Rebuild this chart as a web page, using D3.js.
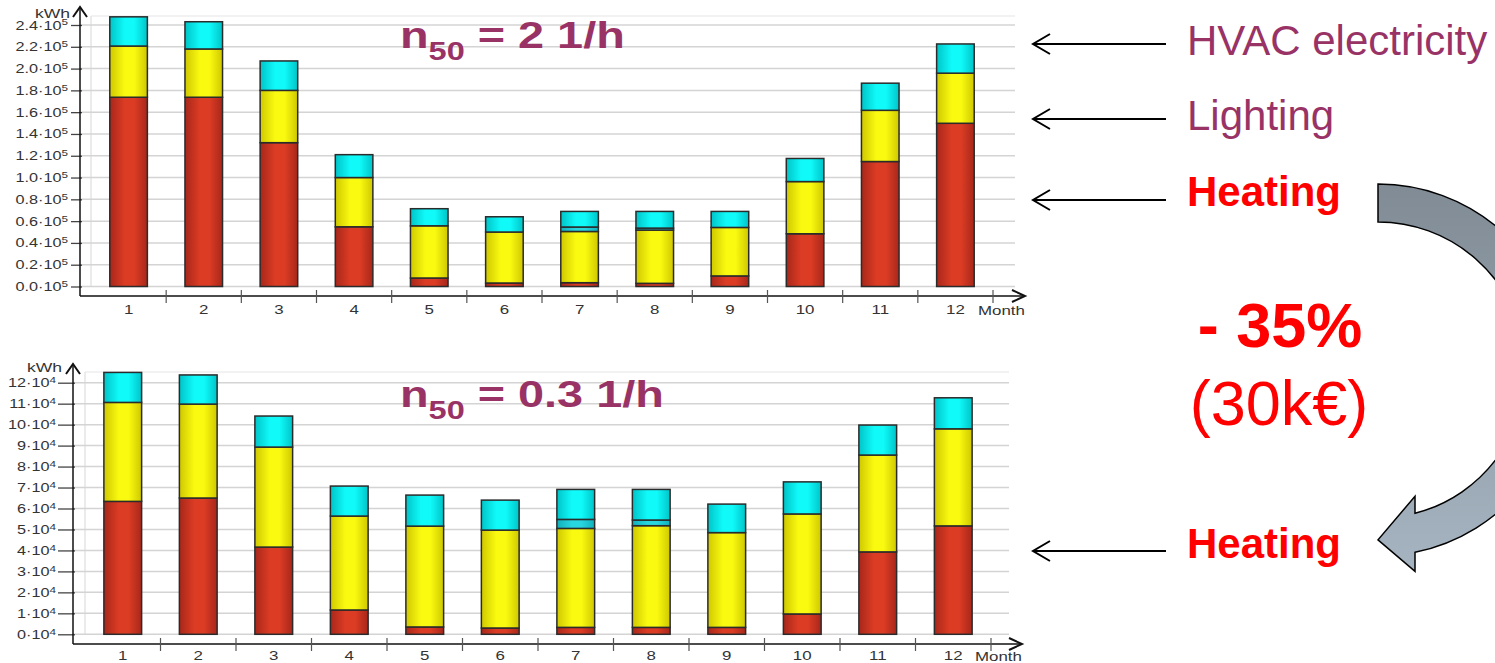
<!DOCTYPE html>
<html>
<head>
<meta charset="utf-8">
<script src="https://cdn.jsdelivr.net/npm/d3@7"></script>
<style>
  html, body { margin: 0; padding: 0; background: #fff; }
  svg { display: block; }
  .tick text { font-family: "Liberation Sans", Arial, sans-serif; fill: #333; }
</style>
</head>
<body>
<svg id="chart" width="1495" height="663"></svg>
<script>
// Monthly energy demand (kWh) by end use, two airtightness cases
const months = [1, 2, 3, 4, 5, 6, 7, 8, 9, 10, 11, 12];
const seriesKeys = ["heating", "lighting", "cooling", "hvac"];

// n50 = 2 1/h
const leakyHeating  = [173700, 173700, 132000, 54800, 7800, 3200, 3500, 2900, 9700, 48400, 114700, 149800];
const leakyLighting = [47000, 44300, 48000, 45200, 47900, 46800, 47000, 48900, 44500, 47900, 47000, 46000];
const leakyCooling  = [0, 0, 0, 0, 0, 0, 4100, 1800, 0, 0, 0, 0];
const leakyHvac     = [26800, 25000, 27000, 21000, 15700, 14000, 14300, 15300, 14700, 21200, 24900, 26800];
const leakyTicks    = [0, 20000, 40000, 60000, 80000, 100000, 120000, 140000, 160000, 180000, 200000, 220000, 240000];

// n50 = 0.3 1/h
const tightHeating  = [63400, 65000, 41600, 11600, 3500, 3000, 3300, 3300, 3300, 9700, 39300, 51700];
const tightLighting = [47200, 44800, 47700, 44800, 48100, 46700, 47200, 48500, 45200, 47700, 46200, 46300];
const tightCooling  = [0, 0, 0, 0, 0, 0, 4300, 2700, 0, 0, 0, 0];
const tightHvac     = [14300, 13900, 14800, 14300, 14800, 14300, 14300, 14600, 13600, 15300, 14300, 14800];
const tightTicks    = [0, 10000, 20000, 30000, 40000, 50000, 60000, 70000, 80000, 90000, 100000, 110000, 120000];

const svg = d3.select("#chart");
const defs = svg.append("defs");
const FONT = "Liberation Sans, Arial, sans-serif";
const STRETCH = 1.3; // chart lettering is set wide

// Shaded bar fills (darker at the edges)
const fills = {
  heating:  ["#a8271a", "#dc3c24", "#a8271a"],
  lighting: ["#cfc800", "#fafa10", "#cfc800"],
  cooling:  ["#10b0bc", "#28d6e0", "#10b0bc"],
  hvac:     ["#00c4c8", "#10fafa", "#00c4c8"]
};
Object.entries(fills).forEach(([key, stops]) => {
  const g = defs.append("linearGradient").attr("id", "fill-" + key)
    .attr("x1", "0%").attr("x2", "100%").attr("y1", "0%").attr("y2", "0%");
  g.append("stop").attr("offset", "0%").attr("stop-color", stops[0]);
  g.append("stop").attr("offset", "40%").attr("stop-color", stops[1]);
  g.append("stop").attr("offset", "65%").attr("stop-color", stops[1]);
  g.append("stop").attr("offset", "100%").attr("stop-color", stops[2]);
});

const arrowGrad = defs.append("linearGradient").attr("id", "arc-fill")
  .attr("x1", "0").attr("x2", "0").attr("y1", "0").attr("y2", "1");
arrowGrad.append("stop").attr("offset", "0%").attr("stop-color", "#808b95");
arrowGrad.append("stop").attr("offset", "100%").attr("stop-color", "#a6b4c1");

function buildRows(heating, lighting, cooling, hvac) {
  return months.map((m, i) => ({
    month: m, heating: heating[i], lighting: lighting[i], cooling: cooling[i], hvac: hvac[i]
  }));
}

function drawChart(cfg) {
  const g = svg.append("g");
  const x = d3.scaleBand().domain(months).range([cfg.x0, cfg.x1]).paddingInner(0.5).paddingOuter(0.25);
  const y = d3.scaleLinear().domain([0, cfg.ticks[cfg.ticks.length - 1]]).range([cfg.yZero, cfg.yTop]);
  const bandStep = x.step();

  // light plot frame and gridlines
  g.append("line").attr("x1", cfg.x0).attr("x2", cfg.x0)
    .attr("y1", cfg.frameTop).attr("y2", cfg.yZero)
    .attr("stroke", "#dedede").attr("stroke-width", 1.2);
  g.append("line").attr("x1", cfg.x0).attr("x2", cfg.gridRight)
    .attr("y1", cfg.frameTop).attr("y2", cfg.frameTop)
    .attr("stroke", "#e6e6e6").attr("stroke-width", 1.2);
  g.selectAll("line.grid").data(cfg.ticks).join("line").attr("class", "grid")
    .attr("x1", cfg.axisX).attr("x2", cfg.gridRight)
    .attr("y1", d => y(d)).attr("y2", d => y(d))
    .attr("stroke", "#d4d4d4").attr("stroke-width", 1.5);

  // y axis labels and ticks
  const yAxis = d3.axisLeft(y).tickValues(cfg.ticks).tickSize(cfg.tickLen).tickPadding(cfg.tickPad)
    .tickFormat(() => "");
  const ya = g.append("g").attr("transform", `translate(${cfg.axisX + 2},0)`).call(yAxis);
  ya.select(".domain").remove();
  ya.selectAll(".tick line").attr("stroke", "#444").attr("stroke-width", 1.3);
  ya.selectAll(".tick text").each(function (d) {
    const t = d3.select(this).attr("font-size", cfg.labelSize)
      .attr("x", 0)
      .attr("transform", `translate(${-(cfg.tickLen + cfg.tickPad)},0) scale(${STRETCH},1)`);
    t.append("tspan").text(cfg.mantissa(d) + "·10");
    t.append("tspan").attr("dy", "-0.45em").attr("font-size", "0.72em").text(cfg.exponent);
  });

  // stacked bars
  const rows = buildRows(...cfg.series);
  const stacked = d3.stack().keys(seriesKeys)(rows);
  const layers = g.selectAll("g.layer").data(stacked).join("g").attr("class", "layer")
    .attr("fill", d => `url(#fill-${d.key})`);
  layers.selectAll("rect").data(d => d.filter(s => s[1] - s[0] > 0)).join("rect")
    .attr("x", d => x(d.data.month))
    .attr("width", x.bandwidth())
    .attr("y", d => y(d[1]))
    .attr("height", d => y(d[0]) - y(d[1]))
    .attr("stroke", "#2b2b2b").attr("stroke-width", 1.5);

  // axes with arrowheads
  g.append("line").attr("x1", cfg.axisX).attr("x2", cfg.axisX)
    .attr("y1", cfg.xAxisY).attr("y2", cfg.arrowTop + 1)
    .attr("stroke", "#111").attr("stroke-width", 1.5);
  g.append("path")
    .attr("d", `M${cfg.axisX - 7},${cfg.arrowTop + 10} L${cfg.axisX},${cfg.arrowTop} L${cfg.axisX + 7},${cfg.arrowTop + 10}`)
    .attr("fill", "none").attr("stroke", "#111").attr("stroke-width", 2);
  g.append("line").attr("x1", cfg.axisX).attr("x2", cfg.arrowRight - 1)
    .attr("y1", cfg.xAxisY).attr("y2", cfg.xAxisY)
    .attr("stroke", "#111").attr("stroke-width", 1.5);
  g.append("path")
    .attr("d", `M${cfg.arrowRight - 13},${cfg.xAxisY - 6} L${cfg.arrowRight},${cfg.xAxisY} L${cfg.arrowRight - 13},${cfg.xAxisY + 6}`)
    .attr("fill", "none").attr("stroke", "#111").attr("stroke-width", 2);

  // month boundary ticks
  g.selectAll("line.mtick").data(months).join("line").attr("class", "mtick")
    .attr("x1", d => x(d) + x.bandwidth() / 2 + bandStep / 2)
    .attr("x2", d => x(d) + x.bandwidth() / 2 + bandStep / 2)
    .attr("y1", cfg.xAxisY - 6).attr("y2", cfg.xAxisY + 7)
    .attr("stroke", "#555").attr("stroke-width", 1.2);

  const xAxis = d3.axisBottom(x).tickSize(0).tickPadding(0);
  const xa = g.append("g").attr("transform", `translate(0,${cfg.monthBaseline - 10})`).call(xAxis);
  xa.select(".domain").remove();
  xa.selectAll(".tick text").attr("font-size", 13).attr("dy", "0.71em")
    .attr("transform", `scale(${STRETCH},1)`);

  g.append("text").attr("transform", `translate(${cfg.monthX},${cfg.monthBaseline}) scale(${STRETCH},1)`)
    .attr("font-family", FONT).attr("font-size", 13)
    .attr("fill", "#333").text("Month");
  g.append("text").attr("transform", `translate(${cfg.kwhX},${cfg.kwhY}) scale(${STRETCH},1)`)
    .attr("font-family", FONT).attr("font-size", 13.5)
    .attr("fill", "#333").text("kWh");

  // chart title
  const title = g.append("text")
    .attr("transform", `translate(${cfg.titleX},${cfg.titleY}) scale(${STRETCH},1)`)
    .attr("font-family", FONT).attr("font-weight", "bold")
    .attr("font-size", 36).attr("fill", "#993366");
  title.append("tspan").text("n");
  title.append("tspan").attr("font-size", 25).attr("dy", 12).text("50");
  title.append("tspan").attr("dy", -12).text(" = " + cfg.titleValue);
}

drawChart({
  series: [leakyHeating, leakyLighting, leakyCooling, leakyHvac],
  ticks: leakyTicks,
  mantissa: d => (d / 1e5).toFixed(1), exponent: "5",
  x0: 91, x1: 993, axisX: 80, gridRight: 1015, frameTop: 16,
  yZero: 286.5, yTop: 25, xAxisY: 296, arrowTop: 7, arrowRight: 1025,
  tickLen: 11, tickPad: 3, labelSize: 12.5,
  monthBaseline: 315, monthX: 978, kwhX: 35, kwhY: 18,
  titleX: 400, titleY: 48, titleValue: "2 1/h"
});

drawChart({
  series: [tightHeating, tightLighting, tightCooling, tightHvac],
  ticks: tightTicks,
  mantissa: d => String(d / 1e4), exponent: "4",
  x0: 85, x1: 991, axisX: 73, gridRight: 1009, frameTop: 372,
  yZero: 634.3, yTop: 382.7, xAxisY: 644, arrowTop: 364, arrowRight: 1022,
  tickLen: 17, tickPad: 2, labelSize: 12.5,
  monthBaseline: 661, monthX: 975, kwhX: 27, kwhY: 372,
  titleX: 400, titleY: 407, titleValue: "0.3 1/h"
});

// Annotations on the right
const notes = svg.append("g").attr("font-family", FONT);
const pointers = [
  { y: 44, label: "HVAC electricity", color: "#993366", weight: "normal", baseline: 55 },
  { y: 119, label: "Lighting", color: "#993366", weight: "normal", baseline: 130 },
  { y: 200, label: "Heating", color: "#ff0000", weight: "bold", baseline: 206 },
  { y: 551, label: "Heating", color: "#ff0000", weight: "bold", baseline: 558 }
];
pointers.forEach(p => {
  notes.append("line").attr("x1", 1033).attr("x2", 1166).attr("y1", p.y).attr("y2", p.y)
    .attr("stroke", "#000").attr("stroke-width", 2);
  notes.append("path").attr("d", `M1050,${p.y - 10} L1033,${p.y} L1050,${p.y + 10}`)
    .attr("fill", "none").attr("stroke", "#000").attr("stroke-width", 2);
  notes.append("text").attr("x", 1187).attr("y", p.baseline)
    .attr("font-size", 42).attr("font-weight", p.weight).attr("fill", p.color).text(p.label);
});

notes.append("text").attr("x", 1280).attr("y", 347).attr("text-anchor", "middle")
  .attr("font-size", 63).attr("font-weight", "bold").attr("fill", "#ff0000").text("- 35%");
notes.append("text").attr("x", 1279).attr("y", 425).attr("text-anchor", "middle")
  .attr("font-size", 63).attr("fill", "#ff0000").text("(30k€)");

// Curved block arrow from the upper heating label to the lower one
const cx = 1378, cy = 370, rOut = 186, rIn = 148, endX = 1415;
const outY = cy + Math.sqrt(rOut * rOut - (endX - cx) ** 2);
const inY = cy + Math.sqrt(rIn * rIn - (endX - cx) ** 2);
const arcPath = [
  `M${cx},${cy - rOut}`,
  `A${rOut},${rOut} 0 0 1 ${endX},${outY}`,
  `L${endX},${outY + 19}`,
  `L${cx},${(outY + inY) / 2 + 7}`,
  `L${endX},${inY - 17}`,
  `L${endX},${inY}`,
  `A${rIn},${rIn} 0 0 0 ${cx},${cy - rIn}`,
  "Z"
].join(" ");
svg.append("path").attr("d", arcPath).attr("fill", "url(#arc-fill)")
  .attr("stroke", "#000").attr("stroke-width", 1.5);
</script>
</body>
</html>
